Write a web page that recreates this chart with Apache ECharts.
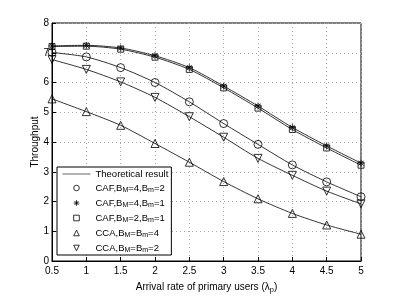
<!DOCTYPE html>
<html><head><meta charset="utf-8">
<script src="https://cdn.jsdelivr.net/npm/echarts@6/dist/echarts.min.js"></script>
<style>html,body{margin:0;padding:0;background:#fff}#c{width:399px;height:299px}</style>
</head><body><div id="c"></div>
<script>
const xValues = [0.5, 1, 1.5, 2, 2.5, 3, 3.5, 4, 4.5, 5];
const cafM4m2 = [7.01, 6.86, 6.50, 6.00, 5.35, 4.62, 3.92, 3.23, 2.66, 2.16];
const cafM4m1 = [7.23, 7.25, 7.16, 6.90, 6.50, 5.88, 5.21, 4.49, 3.87, 3.29];
const cafM2m1 = [7.21, 7.22, 7.12, 6.85, 6.44, 5.82, 5.14, 4.42, 3.80, 3.22];
const ccaM4 = [5.45, 5.02, 4.56, 3.95, 3.32, 2.67, 2.09, 1.60, 1.21, 0.90];
const ccaM2 = [6.77, 6.44, 6.02, 5.50, 4.85, 4.16, 3.45, 2.88, 2.35, 1.92];
const yTicks = [0, 1, 2, 3, 4, 5, 6, 7, 8];

const FONT = '"Liberation Sans", Arial, sans-serif';
const pair = arr => xValues.map((x, i) => [x, arr[i]]);
const star = 'path://M5,0L5,10M0,5L10,5M1.5,1.5L8.5,8.5M1.5,8.5L8.5,1.5';

const simSeries = [
  {name: 'CAF,B_M=4,B_m=2', data: cafM4m2, symbol: 'circle', size: 8, rot: 0},
  {name: 'CAF,B_M=4,B_m=1', data: cafM4m1, symbol: star, size: 7, rot: 0},
  {name: 'CAF,B_M=2,B_m=1', data: cafM2m1, symbol: 'rect', size: 6, rot: 0},
  {name: 'CCA,B_M=B_m=4', data: ccaM4, symbol: 'triangle', size: 8, rot: 0},
  {name: 'CCA,B_M=B_m=2', data: ccaM2, symbol: 'triangle', size: 8, rot: 180}
];

const series = [];
simSeries.forEach(s => {
  series.push({
    name: 'Theoretical result', type: 'line', data: pair(s.data), smooth: 0.25,
    showSymbol: false, symbol: 'none', lineStyle: {color: '#000', width: 0.8},
    itemStyle: {color: '#000'}, z: 2, silent: true
  });
});
simSeries.forEach(s => {
  series.push({
    name: s.name, type: 'line', data: pair(s.data), symbol: s.symbol, symbolSize: s.size,
    symbolRotate: s.rot, showSymbol: true,
    lineStyle: {width: 0, opacity: 0},
    itemStyle: {color: 'rgba(255,255,255,0)', borderColor: '#000', borderWidth: 0.8}, z: 3
  });
});

function fmt(name) {
  if (name === 'Theoretical result') return '{a|Theoretical result}';
  const parts = name.split(/B_([Mm])/);
  let out = '';
  for (let i = 0; i < parts.length; i++) {
    if (i % 2 === 0) {
      if (parts[i].length) out += '{a|' + parts[i] + '}';
    } else {
      out += '{a|B}{s|' + parts[i] + '}';
    }
  }
  return out;
}

const legendData = [{name: 'Theoretical result', itemStyle: {opacity: 0}, lineStyle: {color: '#666', width: 1}}]
  .concat(simSeries.map(s => ({name: s.name})));

const chart = echarts.init(document.getElementById('c'), null, {renderer: 'canvas'});
chart.setOption({
  animation: false,
  backgroundColor: '#fff',
  grid: {left: 52, right: 38, top: 23, bottom: 33, show: true, borderColor: '#000', borderWidth: 1},
  xAxis: {
    type: 'value', min: 0.5, max: 5, interval: 0.5,
    name: '{a|Arrival rate of primary users (λ}{s|p}{a|)}', nameLocation: 'middle', nameGap: 19,
    nameTextStyle: {rich: {a: {fontFamily: FONT, fontSize: 10, color: '#000'},
      s: {fontFamily: FONT, fontSize: 7.5, color: '#000', padding: [6, 0, 0, 0]}}},
    axisLine: {lineStyle: {color: '#000', width: 1}},
    axisTick: {inside: true, length: 4, lineStyle: {color: '#000'}},
    axisLabel: {color: '#000', fontFamily: FONT, fontSize: 10, margin: 5},
    splitLine: {show: true, lineStyle: {color: '#aaa', type: [1, 3], width: 1}}
  },
  yAxis: {
    type: 'value', min: yTicks[0], max: yTicks[yTicks.length - 1], interval: 1,
    name: 'Throughput', nameLocation: 'middle', nameGap: 12, nameMoveOverlap: false,
    nameTextStyle: {fontFamily: FONT, fontSize: 10, color: '#000'},
    axisLine: {lineStyle: {color: '#000', width: 1}},
    axisTick: {inside: true, length: 4, lineStyle: {color: '#000'}},
    axisLabel: {color: '#000', fontFamily: FONT, fontSize: 10, margin: 3},
    splitLine: {show: true, lineStyle: {color: '#aaa', type: [1, 3], width: 1}}
  },
  legend: {
    orient: 'vertical', left: 57, top: 167,
    padding: [2, 3, 1, 5], itemGap: 3, itemWidth: 28, itemHeight: 7,
    backgroundColor: '#fff', borderColor: '#000', borderWidth: 1, borderRadius: 0,
    itemStyle: {borderWidth: 0.8},
    data: legendData,
    formatter: fmt,
    textStyle: {rich: {
      a: {fontFamily: FONT, fontSize: 9.5, color: '#000', lineHeight: 12},
      s: {fontFamily: FONT, fontSize: 7, color: '#000', padding: [5, 0, 0, 0], lineHeight: 12}
    }}
  },
  series: series
});
</script></body></html>
